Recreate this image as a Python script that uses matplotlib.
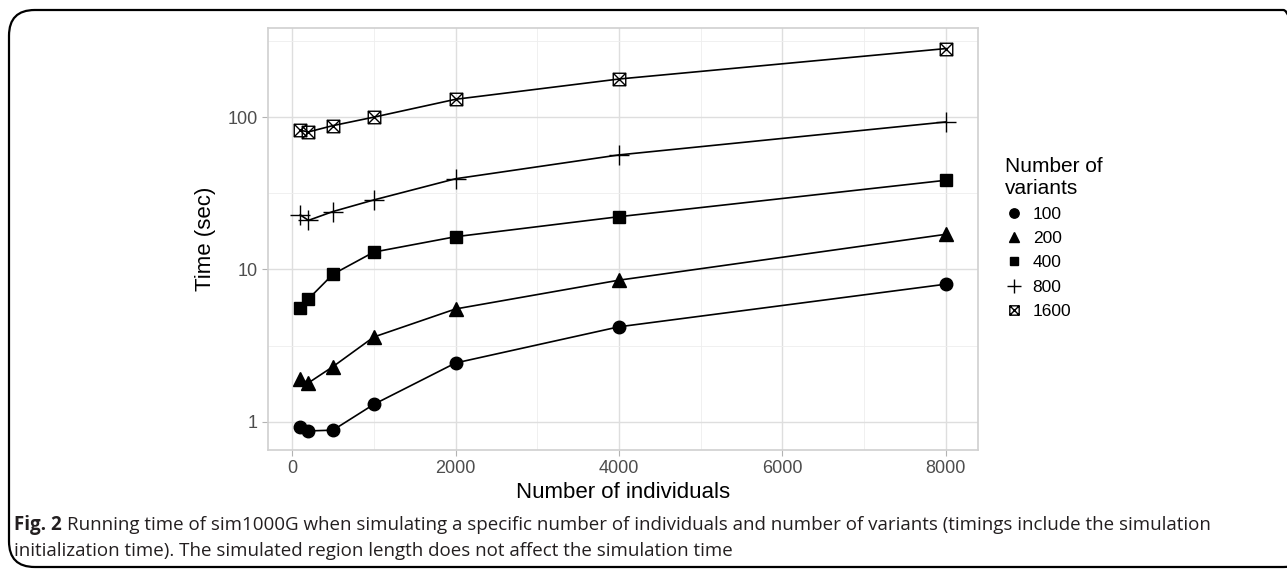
import matplotlib
matplotlib.use('Agg')
import matplotlib.pyplot as plt
from matplotlib.path import Path
from matplotlib.patches import FancyBboxPatch
from matplotlib.lines import Line2D
from matplotlib.ticker import FixedLocator, NullFormatter

plt.rcParams['font.family'] = ['Liberation Sans', 'DejaVu Sans']

# data
individuals = [100, 200, 500, 1000, 2000, 4000, 8000]
variant_labels = ['100', '200', '400', '800', '1600']
t_100 = [0.92, 0.87, 0.88, 1.3, 2.43, 4.2, 8.0]
t_200 = [1.9, 1.8, 2.3, 3.6, 5.5, 8.5, 17.0]
t_400 = [5.6, 6.4, 9.3, 13.0, 16.4, 22.2, 38.5]
t_800 = [22.8, 21.0, 24.0, 28.6, 39.4, 56.5, 93.0]
t_1600 = [82.0, 80.0, 88.0, 100.0, 131.0, 178.0, 282.0]
series = [t_100, t_200, t_400, t_800, t_1600]

caption_head = 'Fig. 2'
caption_line1 = ('Running time of sim1000G when simulating a specific number of individuals '
                 'and number of variants (timings include the simulation')
caption_line2 = 'initialization time). The simulated region length does not affect the simulation time'

# boxed-x marker
boxx = Path([(-1, -1), (1, -1), (1, 1), (-1, 1), (-1, -1), (-1, -1), (1, 1), (-1, 1), (1, -1)],
            [Path.MOVETO, Path.LINETO, Path.LINETO, Path.LINETO, Path.CLOSEPOLY,
             Path.MOVETO, Path.LINETO, Path.MOVETO, Path.LINETO])

styles = [
    dict(marker='o', markersize=9, mfc='black', mec='black'),
    dict(marker='^', markersize=10, mfc='black', mec='black'),
    dict(marker='s', markersize=8.5, mfc='black', mec='black'),
    dict(marker='+', markersize=14, mfc='none', mec='black', mew=1.0),
    dict(marker=boxx, markersize=9, mfc='none', mec='black', mew=1.0),
]

fig = plt.figure(figsize=(12.87, 5.71), dpi=100)

# rounded outer frame
frame = FancyBboxPatch((9 / 1287, 4 / 571), 1300 / 1287, 557 / 571,
                       boxstyle='round,pad=0,rounding_size=0.02',
                       transform=fig.transFigure, fill=False, ec='black', lw=1.6,
                       mutation_aspect=1287 / 571)
fig.patches.append(frame)

ax = fig.add_axes([268 / 1287, 1 - 450 / 571, 710 / 1287, 422 / 571])

for vals, st in zip(series, styles):
    ax.plot(individuals, vals, color='black', lw=1.2, zorder=3, **st)

ax.set_yscale('log')
ax.set_xlim(-295, 8395)
ax.set_ylim(0.652, 385)
ax.set_xticks([0, 2000, 4000, 6000, 8000])
ax.xaxis.set_minor_locator(FixedLocator([1000, 3000, 5000, 7000]))
ax.set_yticks([1, 10, 100])
ax.set_yticklabels(['1', '10', '100'])
ax.yaxis.set_minor_locator(FixedLocator([10 ** 0.5, 10 ** 1.5, 10 ** 2.5]))
ax.yaxis.set_minor_formatter(NullFormatter())

ax.grid(which='major', color='#dedede', lw=1.0)
ax.grid(which='minor', color='#eeeeee', lw=0.6)
ax.set_axisbelow(True)
for sp in ax.spines.values():
    sp.set_color('#d0d0d0')
    sp.set_linewidth(1.2)
ax.tick_params(which='major', length=4, color='#b3b3b3', labelcolor='#4d4d4d', labelsize=13)
ax.tick_params(which='minor', length=0)

ax.set_xlabel('Number of individuals', fontsize=16, labelpad=3)
ax.set_ylabel('Time (sec)', fontsize=16, labelpad=8)

handles = [Line2D([], [], ls='none', color='black',
                  **{k: (v * 0.75 if k == 'markersize' else v) for k, v in st.items()})
           for st in styles]
leg = fig.legend(handles, variant_labels, title='Number of\nvariants',
                 loc='upper left', bbox_to_anchor=(998 / 1287, 1 - 150 / 571),
                 frameon=False, fontsize=12.5, title_fontsize=15,
                 handlelength=1.0, handletextpad=0.6, labelspacing=0.52,
                 borderaxespad=0)
leg._legend_box.align = 'left'

# caption: bold head, then the rest right after it
cap_font = ['Open Sans', 'DejaVu Sans']
cap_size = 13.5
y1 = 1 - 525 / 571
y2 = 1 - 551 / 571
head = fig.text(14 / 1287, y1, caption_head, fontsize=cap_size, fontweight='bold',
                family=cap_font, va='center', ha='left', color='#231f20')
renderer = fig.canvas.get_renderer()
bb = head.get_window_extent(renderer)
fig.text((bb.x1 + 5) / 1287, y1, caption_line1, fontsize=cap_size, family=cap_font,
         va='center', ha='left', color='#231f20')
fig.text(14 / 1287, y2, caption_line2, fontsize=cap_size, family=cap_font,
         va='center', ha='left', color='#231f20')

fig.savefig('out.png', dpi=100)
